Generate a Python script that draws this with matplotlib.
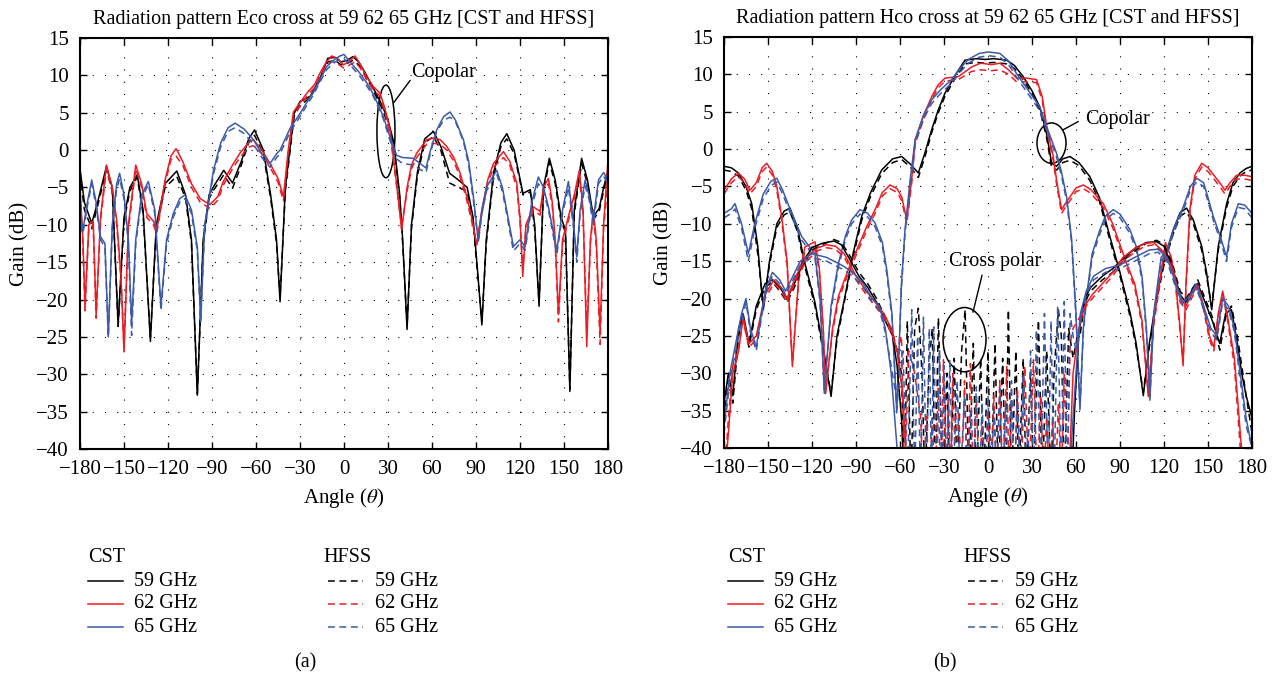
import matplotlib
matplotlib.use("Agg")
import matplotlib.pyplot as plt
from matplotlib.lines import Line2D
from matplotlib.patches import Ellipse

plt.rcParams["font.family"] = ["Liberation Serif", "DejaVu Serif"]
plt.rcParams["mathtext.fontset"] = "stix"
plt.rcParams["font.size"] = 14.5

BLACK = "black"
RED = "#ec1c24"
BLUE = "#3c5aa8"
DASH = (0, (4.5, 3))

FREQ_LABELS = ["59 GHz", "62 GHz", "65 GHz"]
X_TICKS = list(range(-180, 181, 30))
Y_TICKS = list(range(-40, 16, 5))

# ---------------- panel (a): E-plane, CST solid / HFSS dashed ----------------
a59_ang = [-180, -177, -172, -168, -162, -158, -154, -150, -146, -141,
           -137, -132, -128, -122, -114, -108, -104, -100, -96, -92,
           -89, -82, -76, -70, -65, -61, -55, -50, -46, -43.6,
           -40, -34, -30, -23, -16, -11, -6, -2, 2, 6,
           10, 14, 20, 26, 30, 34, 38, 40, 43, 46,
           50, 55, 61, 66, 72, 78, 84, 88, 91, 94,
           97, 102, 107, 111, 116, 122, 127, 130, 133, 136,
           140, 144, 148, 151, 154, 157, 162, 166, 170, 174,
           177, 180]
a59_cst = [-2.5, -7, -9.8, -7, -2.2, -5, -23.4, -9, -5, -3.3,
           -8, -25.6, -10, -4.5, -2.8, -6, -12, -32.8, -12, -6,
           -4.9, -2.7, -4.4, -1.5, 1.5, 2.7, 0, -6, -12, -20.3,
           -5, 4.9, 6.5, 7.2, 9.8, 12.3, 12.4, 11.8, 12.0, 12.5,
           11.8, 10.5, 8.3, 6.0, 4.0, 1.0, -6, -12, -24, -10,
           -3, 1.5, 2.5, 0.5, -3.1, -4, -5, -9, -16, -23.4,
           -12, -3, 1.0, 2.2, 0, -5.8, -5.3, -10, -20.9, -5,
           -1.1, -4, -9, -10.7, -32.3, -8, -1.1, -4, -8.9, -7.8,
           -5, -2.7]
a59_hfss = [-3, -8, -10.5, -7.5, -2.6, -5.5, -23.6, -9.5, -5.5, -3.6,
            -8.5, -25, -10.5, -5, -3.5, -6.5, -12.5, -32.6, -12.5, -6.5,
            -5.4, -3.3, -5.1, -2, 1, 2.0, -0.5, -6.5, -12.5, -19.8,
            -5.5, 4.5, 6, 7, 9.5, 11.8, 12.0, 11.4, 11.6, 12.0,
            11.4, 10.2, 8.0, 5.5, 3.5, 0.5, -6.5, -12.5, -23.5, -10.5,
            -3.5, 1, 1.8, 0, -4.4, -5, -5.5, -9.5, -16.5, -22.9,
            -12.5, -3.5, 0.5, 1.5, -0.5, -6, -5.6, -10.5, -20.5, -5.5,
            -1.6, -4.5, -9.5, -11, -32, -8.5, -1.8, -4.5, -9.3, -8.2,
            -5.5, -3]

a62_ang = [-180, -178, -176.6, -174, -171, -169, -166, -162, -158, -155,
           -152, -150, -147, -142, -138, -134.5, -130, -127.7, -122, -118,
           -114.5, -110, -104, -98, -91.4, -86, -82.3, -76, -70.9, -65,
           -61.8, -56, -50.4, -45, -41.3, -38, -34.5, -25.4, -20, -16.4,
           -12, -8.4, -4, -0.4, 3, 7.5, 11, 15.5, 20, 24.6,
           28, 31.4, 35, 39.3, 43, 46, 49.6, 56.4, 61, 65.5,
           70, 74.6, 79, 83.7, 87, 90.5, 94, 98, 101.9, 108.7,
           113, 117.8, 120, 121.9, 124, 129.1, 133.7, 136, 139.4, 142,
           144, 146.2, 149, 153, 157, 160.5, 163, 165.5, 168, 170,
           172, 174.6, 177, 180]
a62_cst = [-5, -12, -21, -10, -9.5, -22, -9, -2, -5, -9.4,
           -17, -27, -10, -2, -4.5, -8.5, -9.5, -10.7, -4, -0.8,
           0.2, -1.5, -4.5, -6.5, -7.3, -6.2, -4.2, -2, -0.4, 1.0,
           1.4, 0, -1.8, -3.8, -6.2, 0, 5.1, 7.6, 8.8, 10.3,
           11.8, 12.6, 12.2, 11.4, 11.8, 12.6, 11.5, 9.8, 8.5, 7.6,
           5.5, 2.7, -3, -10.7, -5, -2, -0.4, 1.4, 1.6, 1.4,
           0.5, -0.9, -3, -6.2, -9, -12.7, -8, -4, -1.8, -0.2,
           -1.5, -4.4, -9, -16.9, -10, -7.6, -8.2, -5, -3.8, -7,
           -12, -22, -12, -8.9, -6, -2.7, -8, -26.3, -12, -8,
           -12, -24.3, -10, -1.3]
a62_hfss = [-5.5, -13, -21.5, -10.5, -10, -22.5, -9.5, -2.5, -5.5, -10,
            -17.5, -26.5, -10.5, -2.5, -5, -9, -10, -11.2, -4.5, -1.3,
            -0.8, -2, -5, -7, -7.8, -6.7, -4.7, -2.5, -1, 0.4,
            0.6, -0.5, -2.3, -4.3, -6.8, -0.5, 4.6, 7.2, 8.4, 10,
            11.3, 11.9, 11.5, 11, 11.3, 11.8, 11, 9.4, 8.1, 7.2,
            5, 2.2, -3.5, -10.2, -5.5, -2.5, -1, 0.8, 0.9, 0.8,
            0, -1.4, -3.5, -6.7, -9.5, -12.5, -8.5, -4.5, -2.3, -1,
            -2, -5, -9.5, -16, -10.5, -8.1, -8.7, -5.5, -4.5, -7.5,
            -12.5, -23, -12.5, -9.4, -6.5, -3.5, -8.5, -24, -12.5, -8.5,
            -13, -26, -10.5, -4]

a65_ang = [-180, -178, -175, -172, -169, -166, -163, -160.7, -158, -155,
           -153, -150, -147, -144.8, -142, -138, -133.4, -129, -124.8, -121,
           -116.4, -112, -108.4, -104, -100, -97.7, -95, -89, -84, -79,
           -74.3, -68, -61.8, -56, -50.4, -46, -43.6, -36.8, -30, -20.9,
           -11.8, -6, -2.7, 0, 4.1, 10, 15.5, 20, 26.8, 31,
           35.9, 40, 47.3, 52, 55.9, 59, 63.2, 68, 72.3, 76,
           81.4, 85, 88.2, 91.6, 94, 97.3, 104.1, 108, 112.1, 115.5,
           120, 123.5, 128, 132.5, 136, 139.4, 145.1, 149, 153, 156,
           158.7, 161, 164.4, 167, 170, 173.5, 177, 180]
a65_cst = [-8, -10.7, -7, -4, -7, -11.6, -12.5, -25, -10, -4.5,
           -3.1, -6, -12, -23.2, -12, -6, -4.2, -8, -20.9, -12,
           -8.5, -6.5, -6, -8, -13, -22.7, -10, -2.7, 1, 3,
           3.6, 2.8, 1.4, -0.5, -1.8, -0.5, 0, 2.9, 4.9, 7.8,
           11.2, 12.2, 12.6, 12.8, 11.8, 10.5, 9, 7.5, 4.5, 2,
           -0.7, -1, -1.1, -1.8, -2.4, 0, 2.7, 4.5, 5.1, 4,
           1.4, -1.5, -6.2, -12.2, -8, -4.9, -2.7, -5, -9.3, -12.9,
           -12, -12.9, -7, -3.6, -5, -7.6, -13.4, -8, -4.2, -9,
           -14.3, -8, -4, -6, -9.3, -4, -3, -4]
a65_hfss = [-8.5, -11.2, -7.5, -4.5, -7.5, -12, -13, -25, -10.5, -5.2,
            -3.8, -6.5, -12.5, -24.8, -12.5, -6.5, -4.6, -8.5, -21.5, -12.5,
            -9, -7, -6.5, -8.5, -13.5, -23, -10.5, -3.2, 0.5, 2.5,
            3.0, 2.2, 0.8, -1, -2.3, -1, -0.5, 2.4, 4.5, 7.4,
            10.8, 11.8, 12.2, 12.2, 11.4, 10.1, 8.6, 7.2, 4.2, 1.5,
            -1.2, -1.8, -2, -2.6, -3, -0.3, 2.5, 4, 4.4, 3.8,
            1.2, -2, -6.7, -12.3, -8.5, -5.4, -3.2, -5.5, -9.8, -13.5,
            -12.5, -13.4, -7.5, -4.5, -5.5, -8, -14, -8.5, -5, -9.5,
            -15, -8.5, -4.8, -6.5, -10, -4.5, -3.5, -4.5]

# ---------------- panel (b): H-plane copolar ----------------
b59_ang = [-180, -175, -170.2, -165, -161.1, -157, -153.2, -149, -144, -139,
           -135, -130, -124.8, -118, -112, -107, -103, -97.5, -92, -86.1,
           -80, -72.5, -65, -58.8, -53, -47.5, -43, -38.4, -34, -29.3,
           -22, -15.7, -8, -2, 4, 12.7, 18, 24, 30, 35.4,
           40, 43.4, 46.8, 51, 55.9, 62, 69.5, 76, 83.1, 90,
           97, 101, 105.9, 110, 115, 120, 126.3, 131, 135.4, 140,
           145.7, 149, 152.5, 157, 162.7, 167, 171.8, 176, 180]
b59_cst = [-2.3, -2.5, -3.2, -5, -7.3, -13, -21.5, -15, -10, -8.3,
           -7.9, -10.5, -15.3, -20.5, -27, -33.1, -25, -19.7, -14, -9,
           -5.8, -2.8, -1.3, -1, -2, -3.2, -0.5, 2.6, 5.2, 7.5,
           10, 11.9, 12.1, 12.0, 12.1, 11.9, 11.2, 9.7, 7.8, 5.6,
           2, -1.9, -2.3, -1.3, -1, -1.8, -3.7, -6.5, -11.7, -16.5,
           -22, -26, -33, -26, -19.7, -15, -10.8, -8.5, -7.9, -9.5,
           -13, -16.5, -21.5, -13, -7.3, -4.5, -3.2, -2.6, -2.3]
b59_hfss = [-2.8, -3, -3.6, -5.5, -8, -14, -21, -15.5, -10.5, -8.8,
            -8.4, -11, -15.8, -21, -27.5, -32.6, -25.5, -20, -14.5, -9.5,
            -6.3, -3.3, -1.8, -1.4, -2.4, -3.8, -1, 2.2, 4.8, 7.1,
            9.6, 11.4, 11.6, 11.5, 11.6, 11.4, 10.8, 9.3, 7.4, 5.2,
            1.5, -2.5, -2.8, -1.8, -1.5, -2.2, -4.2, -7, -12.2, -17,
            -22.5, -26.5, -32.5, -26.5, -20.2, -15.5, -11.3, -9, -8.4, -10,
            -13.5, -17, -21, -13.5, -7.8, -5, -3.6, -3, -2.8]

b62_ang = [-180, -175, -170.2, -166, -162.3, -158, -154, -150.9, -147, -144,
           -140.7, -137, -133.4, -129, -124.8, -118, -115, -112.3, -110.7, -106,
           -102, -95, -88.4, -83, -77, -72, -66.8, -62, -58.8, -55.4,
           -52, -49.7, -44, -38.4, -34, -29.3, -20.2, -11.1, -5, 2.5,
           8.1, 14, 19.5, 26, 33.1, 37, 40, 44.5, 47, 50.2,
           53, 55.9, 60, 65, 70, 78.6, 85, 90, 94.5, 100,
           105, 109.3, 113, 117.2, 121, 125, 128, 131, 133, 135,
           137.7, 141, 145.7, 150, 154, 158, 161.6, 165, 169.5, 175,
           180]
b62_cst = [-5.5, -4, -3.2, -4, -5.5, -4.5, -2.5, -1.9, -3, -5,
           -9, -15, -29.1, -17, -13.1, -12.4, -16, -24, -32.7, -24,
           -19.7, -16, -13, -10.5, -8.1, -5.8, -4.8, -5.3, -6.4, -9.5,
           -4, 1.2, 4.5, 7, 8.6, 9.5, 9.7, 11, 11.5, 11.3,
           11.5, 10.6, 9.5, 9.5, 9.3, 7, 3, -1, -4.5, -8.1,
           -7.2, -6.4, -5.2, -4.8, -5.4, -7.3, -10, -12.8, -15.3, -18,
           -23, -33.1, -23, -17.5, -12.5, -14.5, -18, -24, -29, -18,
           -8, -3.5, -1.9, -2.5, -3.5, -4.5, -5.5, -4.5, -3.5, -3.5,
           -3.7]
b62_hfss = [-6, -4.5, -3.7, -4.5, -6, -5, -3, -2.4, -3.5, -5.5,
            -9.5, -15.5, -28.5, -17.5, -13.6, -12.9, -16.5, -24.5, -32.2, -24.5,
            -20.2, -16.5, -13.5, -11, -8.6, -6.3, -5.3, -5.8, -6.9, -10,
            -4.5, 0.7, 4, 6.6, 8.2, 9.1, 9.3, 10.4, 10.6, 10.5,
            10.6, 10, 9, 9, 8.9, 6.5, 2.5, -1.5, -5, -8.6,
            -7.7, -6.9, -5.7, -5.3, -5.9, -7.8, -10.5, -13.3, -15.8, -18.5,
            -23.5, -32.6, -23.5, -18, -13, -15, -18.5, -24.5, -28.5, -18.5,
            -8.5, -4, -2.4, -3, -4, -5, -6, -5, -4, -4,
            -4.2]

b65_ang = [-180, -175, -172.5, -168, -163.4, -159, -153.2, -148, -144, -140,
           -134, -127, -122, -118, -114.5, -111.6, -107, -102, -97, -93,
           -87.3, -82, -77, -72, -69, -65.5, -62.2, -59, -56.6, -53,
           -49.7, -44, -38.4, -32, -24.8, -19, -13.4, -6, 0.3, 8.1,
           14, 19.5, 27, 35.4, 40, 46.8, 50, 53.6, 57, 60,
           62.7, 65, 67.2, 71, 76.3, 80, 85.4, 90, 96.8, 101,
           105, 108, 110.4, 113, 118, 121.8, 127, 133.2, 138, 142.3,
           147, 150, 153.6, 158, 162.7, 166, 170.7, 175, 180]
b65_cst = [-8.6, -8, -7.3, -10, -14, -10, -6, -4.3, -3.9, -5.5,
           -8.5, -11.7, -13, -14, -20, -32.7, -21, -15.3, -11.5, -9.5,
           -8.1, -8.6, -9.9, -12.5, -16.2, -22, -35.3, -18, -10.8, -4,
           1.2, 4.5, 6.6, 8, 9.3, 10.8, 12, 12.8, 13.0, 12.8,
           11.8, 10.1, 8, 5.6, 3, -0.6, -3, -6.4, -12, -22,
           -34.9, -24, -19.7, -14, -10.8, -9, -8.1, -8.7, -10.8, -13,
           -17, -24, -33.6, -22, -14.5, -13.5, -10.5, -7.7, -5, -3.9,
           -4.5, -6.5, -9, -11.5, -14.4, -10, -7.3, -7.5, -8.6]
b65_hfss = [-9.2, -8.6, -8, -10.6, -15, -10.6, -6.6, -4.9, -4.4, -6,
            -9, -12.2, -13.5, -14.5, -20.5, -32.2, -21.5, -15.8, -12, -10,
            -8.7, -9.1, -10.4, -13, -16.7, -22.5, -34.8, -18.5, -11.3, -4.5,
            0.7, 4, 6.1, 7.5, 8.8, 10.3, 11.5, 12.3, 12.5, 12.3,
            11.3, 9.6, 7.5, 5.1, 2.5, -1.1, -3.5, -6.9, -12.5, -22.5,
            -34.4, -24.5, -20.2, -14.5, -11.3, -9.5, -8.6, -9.2, -11.3, -13.5,
            -17.5, -24.5, -33.1, -22.5, -15, -14, -11, -8.2, -5.5, -4.4,
            -5, -7, -9.5, -12, -15, -10.5, -7.8, -8, -9.2]

# ---------------- panel (b): cross polar ----------------
x59_cst_ang = [-180, -177, -174, -170, -167, -163, -158, -152, -147, -142,
               -137, -132, -126, -120, -113, -105, -100, -95, -88, -82,
               -76, -70, -65, -62, -59, -57, -50, 50, 57, 59,
               62, 66, 70, 78, 85, 93, 101, 108, 115, 120,
               126, 131, 135, 140, 143, 148, 153, 158, 162, 166,
               170, 173, 176, 180]
x59_cst = [-34, -30, -33, -24, -22, -26, -21, -18, -17.5, -18.5,
           -20, -18, -15, -13.2, -12.6, -12.3, -12.8, -14.5, -17, -18.5,
           -20.5, -23, -25, -29, -36, -45, -45, -45, -45, -35,
           -24.5, -20, -18.5, -17, -16, -14.5, -13.2, -12.5, -12.4, -13,
           -16, -19.5, -20.5, -18.5, -18, -20.5, -23, -26, -22, -21.5,
           -26, -30, -33, -36]
x59_hfss_ang = [-180, -177, -174, -170, -167, -163, -158, -152, -147, -142,
                -137, -132, -126, -120, -113, -105, -100, -95, -88, -82,
                -76, -70, -65, -62,
                -59, -57, -55, -52.5, -50, -47.5, -45, -43, -40, -38,
                -36, -33.8, -31, -28, -26, -23, -21, -18, -15.6, -13,
                -10, -8, -5, -3, 0, 2, 4.8, 7, 10, 12,
                13.9, 16, 19, 21, 24, 26, 29, 31, 34.4, 37,
                40, 43, 45, 48, 50, 52, 55, 58,
                61, 63, 66, 70, 78, 85, 93, 101, 108, 115,
                120, 126, 131, 135, 140, 143, 148, 153, 158, 162,
                166, 170, 173, 176, 180]
x59_hfss = [-36, -31, -34, -25, -22.5, -26.5, -21.5, -18.5, -17.8, -19,
            -20.5, -18.5, -15.5, -13.5, -12.8, -12.1, -12.5, -14, -16.5, -18,
            -20, -22.5, -24.5, -27,
            -30, -45, -23, -45, -24, -21.3, -30, -45, -28, -24,
            -45, -22.6, -45, -30, -45, -28, -45, -27, -21.5, -45,
            -26, -45, -28, -45, -27, -45, -26, -45, -28, -45,
            -21.5, -45, -27, -45, -28, -45, -30, -45, -22.9, -45,
            -27, -45, -30, -21.5, -25, -45, -24, -28,
            -25, -24.6, -20.5, -19, -17.5, -16.5, -14.8, -13.5, -12.6, -12.2,
            -12.8, -15.5, -19, -20, -18.5, -17.5, -20, -22.5, -26.9, -22.5,
            -21, -25, -29, -33, -38]

x62_cst_ang = [-180, -177, -174, -170, -167, -163, -158, -152, -146, -141,
               -137, -131, -124, -116, -110, -104, -98, -90, -83, -77,
               -71, -66, -62, -58, -55, -50, 50, 55, 58, 62,
               66, 71, 78, 85, 92, 100, 107, 113, 120, 126,
               131, 135, 140, 143, 147, 151, 154, 157, 160, 163,
               168, 172, 175, 180]
x62_cst = [-45, -38, -30, -27, -22.5, -26, -25, -19.5, -17.5, -18.5,
           -20, -17, -14.5, -13.2, -12.8, -13, -14, -17, -19, -20.5,
           -22, -24, -27, -33, -45, -45, -45, -45, -30, -24,
           -21, -19.5, -18, -16.5, -14.5, -13.3, -12.6, -12.5, -13.8, -16,
           -20, -21, -19, -18.2, -21, -25, -26.5, -22, -19, -22,
           -28, -38, -45, -45]
x62_hfss_ang = [-180, -177, -174, -170, -167, -163, -158, -152, -146, -141,
                -137, -131, -124, -116, -110, -104, -98, -90, -83, -77,
                -71, -66, -62,
                -59, -57, -54, -50, -46, -44, -42, -40, -38, -36,
                -34, -32, -30.4, -28.5, -27, -25.5, -24, -22, -20, -18,
                -16, -14, -12, -10, -8, -6, -4, -2, 0, 2,
                4, 6, 8, 10, 12.8, 14.5, 16, 18, 20, 22.5,
                25, 28, 31, 33.5, 36, 38, 40, 42, 44, 46,
                48, 50, 52, 54, 56, 58,
                61, 64, 67, 71, 78, 85, 92, 100, 107, 113,
                120, 126, 131, 135, 140, 143, 147, 151, 154, 157,
                160, 163, 168, 172, 175, 180]
x62_hfss = [-45, -36, -29, -26.5, -23, -26.5, -25.5, -20, -18, -19,
            -20.5, -17.5, -15, -13.6, -13.2, -13.4, -14.5, -17.5, -19.5, -21,
            -22.5, -24.5, -27,
            -25, -45, -27, -30, -35.8, -45, -35.8, -45, -36, -45,
            -32, -45, -28.2, -45, -33, -45, -30, -45, -35, -45,
            -31, -45, -28.7, -45, -33, -45, -36, -45, -35, -45,
            -33, -45, -31, -45, -29.1, -45, -34, -45, -32, -45,
            -29, -45, -28.2, -45, -33, -45, -35.8, -45, -36, -45,
            -34, -45, -30, -45, -26, -24,
            -23, -22, -21, -20, -18.5, -17, -15, -13.8, -13, -12.8,
            -14, -16.5, -20.5, -21.5, -19.5, -18.5, -21.5, -25.5, -27, -22.5,
            -19.5, -22.5, -29, -40, -45, -45]

x65_cst_ang = [-180, -176, -172, -168, -165, -162, -158, -152, -147, -142,
               -138, -133, -128, -120, -110, -100, -92, -85, -79, -74,
               -70, -66, -62, -55, 55, 60, 63, 67, 72, 80,
               90, 100, 110, 116, 122, 128, 133, 138, 142, 147,
               152, 156, 160, 164, 168, 172, 176, 180]
x65_cst = [-37, -30, -26, -22, -20, -24, -26.5, -19, -16.5, -17.5,
           -19, -17, -15, -14, -14.5, -15.5, -16.5, -18, -20, -21,
           -24, -30, -40, -45, -45, -30, -22, -19, -17, -16,
           -15.5, -14.5, -13.5, -13.4, -14.5, -18, -20.5, -19.5, -18, -21,
           -24, -25, -20, -21, -24, -30, -36, -40]
x65_hfss_ang = [-180, -176, -172, -168, -165, -162, -158, -152, -147, -142,
                -138, -133, -128, -120, -110, -100, -92, -85, -79, -74,
                -70, -66, -62,
                -58, -55, -52, -50, -48, -46, -44, -42, -40, -38.5,
                -37, -35, -33, -31.5, -30, -28, -26, -24, -21, -19,
                -16, -14, -12, -10, -8, -6, -4, -2, 0, 2,
                4, 6, 8, 10, 12, 14, 16, 18, 20, 22,
                24, 27, 29, 31, 33, 36, 38.5, 41, 43, 45,
                47.5, 50, 52, 54, 56, 58,
                60, 63, 67, 72, 80, 90, 100, 110, 116, 122,
                128, 133, 138, 142, 147, 152, 156, 160, 164, 168,
                172, 176, 180]
x65_hfss = [-38, -31, -27, -23, -20.5, -24.5, -27, -19.5, -17, -18,
            -19.5, -17.5, -15.5, -14.5, -15, -16, -17, -18.5, -20.5, -21.5,
            -24.5, -29, -34,
            -27, -45, -21.5, -45, -25, -45, -22.5, -45, -24, -45,
            -23.8, -45, -27, -45, -29, -45, -28.2, -45, -31, -45,
            -33, -45, -35, -45, -31.8, -45, -34, -45, -33, -45,
            -35, -45, -32, -45, -34, -45, -31, -45, -33, -45,
            -30, -45, -27, -45, -24.2, -45, -22, -45, -23, -45,
            -21, -45, -20.4, -45, -22, -25,
            -27, -22.5, -19.5, -17.5, -16.5, -16, -15, -14, -13.8, -15,
            -18.5, -21, -20, -18.5, -21.5, -24.5, -25.5, -20.5, -21.5, -24.5,
            -31, -37, -40]

W, H = 1279, 684
fig = plt.figure(figsize=(W / 100, H / 100), dpi=100)
ax_a = fig.add_axes([80 / W, 1 - 449 / H, 528 / W, 411 / H])
ax_b = fig.add_axes([724 / W, 1 - 448 / H, 528 / W, 411 / H])


def style_axes(ax, title):
    ax.set_xlim(-180, 180)
    ax.set_ylim(-40, 15)
    ax.set_xticks(X_TICKS)
    ax.set_yticks(Y_TICKS)
    ax.grid(True, color="black", linestyle=(0, (1, 10)), linewidth=0.8)
    ax.tick_params(direction="in", top=True, right=True, length=5,
                   width=1.0, labelsize=15, pad=8)
    for sp in ax.spines.values():
        sp.set_linewidth(1.5)
    ax.set_title(title, fontsize=14.5, pad=10)
    ax.set_xlabel(r"Angle ($\theta$)", fontsize=15, labelpad=5)
    ax.set_ylabel("Gain (dB)", fontsize=15, labelpad=5)


def draw(ax, ang, gain, color, dashed):
    ax.plot(ang, gain, color=color, linewidth=1.1,
            linestyle=DASH if dashed else "-", clip_on=True)


# panel (a)
for ang, cst, hfss, col in [(a59_ang, a59_cst, a59_hfss, BLACK),
                            (a62_ang, a62_cst, a62_hfss, RED),
                            (a65_ang, a65_cst, a65_hfss, BLUE)]:
    draw(ax_a, ang, cst, col, False)
    draw(ax_a, ang, hfss, col, True)

# panel (b)
for ang, cst, hfss, col in [(b59_ang, b59_cst, b59_hfss, BLACK),
                            (b62_ang, b62_cst, b62_hfss, RED),
                            (b65_ang, b65_cst, b65_hfss, BLUE)]:
    draw(ax_b, ang, cst, col, False)
    draw(ax_b, ang, hfss, col, True)

for ca, cg, ha, hg, col in [(x59_cst_ang, x59_cst, x59_hfss_ang, x59_hfss, BLACK),
                            (x62_cst_ang, x62_cst, x62_hfss_ang, x62_hfss, RED),
                            (x65_cst_ang, x65_cst, x65_hfss_ang, x65_hfss, BLUE)]:
    draw(ax_b, ca, cg, col, False)
    draw(ax_b, ha, hg, col, True)

style_axes(ax_a, "Radiation pattern Eco cross at 59 62 65 GHz [CST and HFSS]")
style_axes(ax_b, "Radiation pattern Hco cross at 59 62 65 GHz [CST and HFSS]")

# annotations
ax_a.add_patch(Ellipse((28.6, 2.5), 12.3, 12.4, fill=False, color="black", lw=1.1))
ax_a.plot([34.1, 45], [6.4, 9.3], color="black", lw=1.0)
ax_a.text(45.5, 10.4, "Copolar", fontsize=14.5, va="center", ha="left")

ax_b.add_patch(Ellipse((43.3, 0.8), 19.8, 5.4, fill=False, color="black", lw=1.1))
ax_b.plot([50.9, 61.4], [2.55, 3.67], color="black", lw=1.0)
ax_b.text(66, 3.9, "Copolar", fontsize=14.5, va="center", ha="left")

ax_b.add_patch(Ellipse((-16, -25.5), 29.3, 8.6, fill=False, color="black", lw=1.1))
ax_b.plot([-10.2, -4.1], [-21.8, -16.9], color="black", lw=1.0)
ax_b.text(-26.6, -15.1, "Cross polar", fontsize=14.5, va="center", ha="left")

# manual legends below each panel
colors = [BLACK, RED, BLUE]
row_y = [581, 604, 627]
for x0, letter, lx in [(88, "(a)", 305), (728, "(b)", 945)]:
    fig.text(x0 / W, 1 - 557 / H, "CST", fontsize=14.5, va="center", ha="left")
    fig.text((x0 + 235) / W, 1 - 557 / H, "HFSS", fontsize=14.5, va="center", ha="left")
    for y, col, lab in zip(row_y, colors, FREQ_LABELS):
        fig.add_artist(Line2D([x0 / W, (x0 + 35) / W], [1 - y / H, 1 - y / H],
                              color=col, lw=1.1, transform=fig.transFigure))
        fig.text((x0 + 46) / W, 1 - y / H, lab, fontsize=14.5, va="center", ha="left")
        fig.add_artist(Line2D([(x0 + 240) / W, (x0 + 275) / W], [1 - y / H, 1 - y / H],
                              color=col, lw=1.1, linestyle=DASH, transform=fig.transFigure))
        fig.text((x0 + 287) / W, 1 - y / H, lab, fontsize=14.5, va="center", ha="left")
    fig.text(lx / W, 1 - 663 / H, letter, fontsize=14.5, va="center", ha="center")

fig.savefig("out.png", dpi=100)
